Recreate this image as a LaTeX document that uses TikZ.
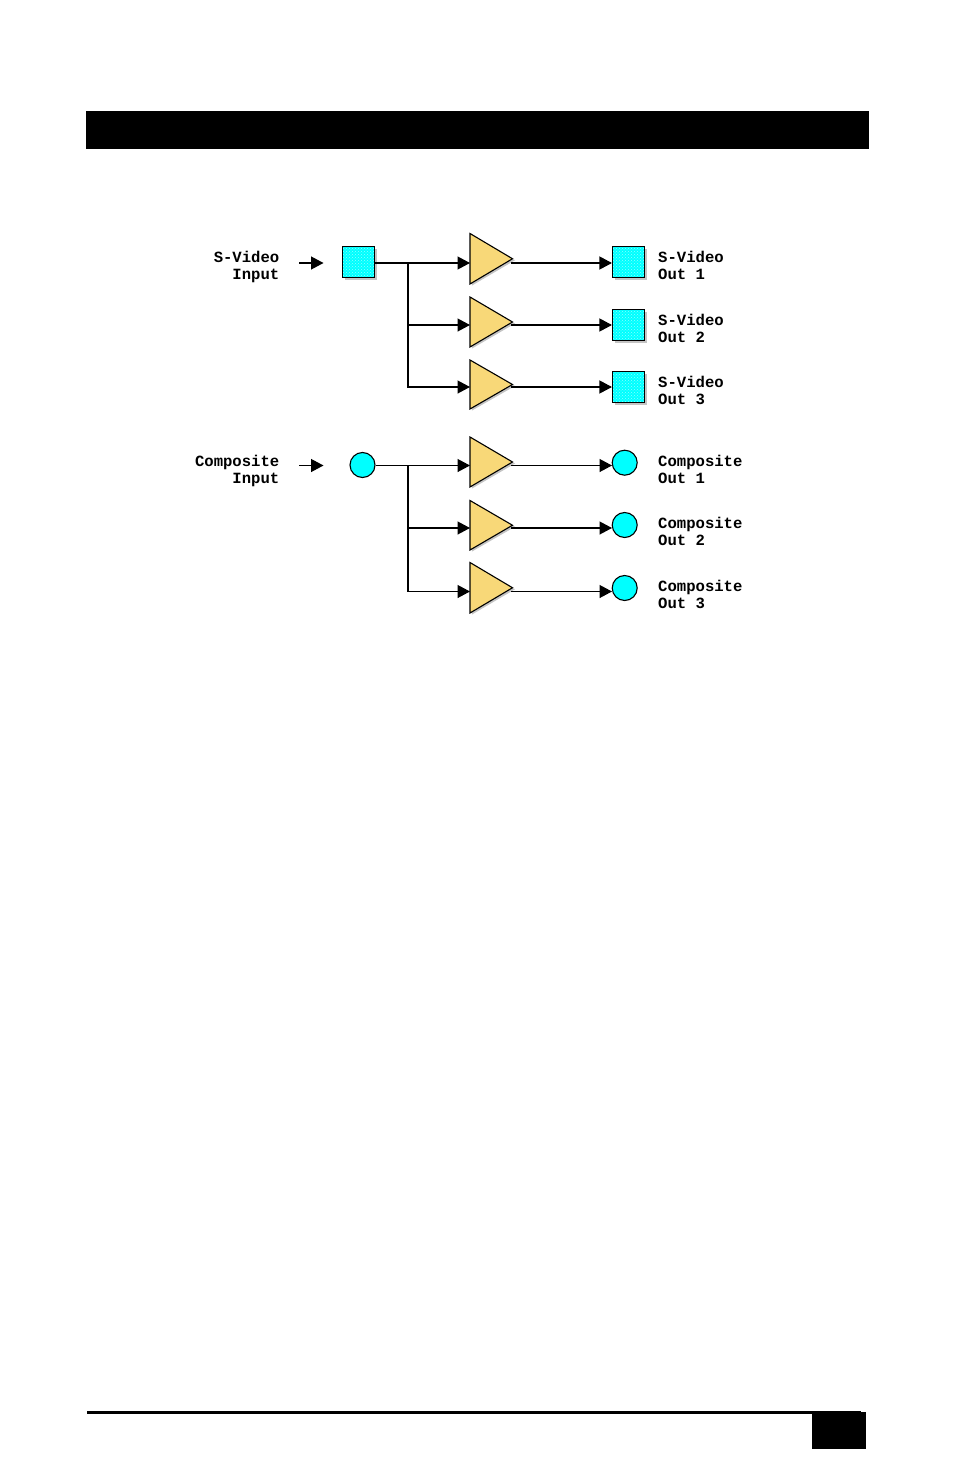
\documentclass[tikz,border=0pt]{standalone}
\usepackage{fontspec}
\setmainfont{Liberation Mono}[BoldFont={Liberation Mono Bold}]
\usetikzlibrary{arrows.meta,patterns,calc}
\definecolor{ampfill}{HTML}{F8D878}
\definecolor{portfill}{HTML}{00FFFF}
\definecolor{dropshade}{HTML}{C4C4C4}
\tikzset{
  x=1pt,y=-1pt,
  wire/.style={line width=1.25pt,black},
  feed/.style={wire,-{Triangle[length=12.5pt,width=13pt]}},
  portbox/.style={draw=black,line width=1.1pt,rectangle,minimum width=32pt,minimum height=31pt,inner sep=0pt,
    preaction={fill=dropshade,transform canvas={shift={(2pt,-2pt)}}},
    preaction={fill=portfill},pattern=crosshatch dots,pattern color=white!55!portfill},
  portdot/.style={draw=black,line width=1.1pt,circle,fill=portfill,minimum size=25pt,inner sep=0pt},
  amp/.style={draw=black,line width=1.1pt,fill=ampfill,line join=miter},
  ampshade/.style={fill=dropshade},
  caption/.style={font=\bfseries\fontsize{15.6}{17.5}\selectfont,inner sep=0pt},
  inlabel/.style={caption,anchor=east,align=right},
  outlabel/.style={caption,anchor=west,align=left},
  solidbar/.style={fill=black,draw=none,rectangle,inner sep=0pt,anchor=north west}
}
% Amplifier: #1 name, #2 top edge y, #3 bottom edge y, #4 signal line y
\newcommand{\ampl}[4]{%
  \fill[ampshade] (472,#3+1.5) -- (515,{(#2+#3)/2+1.5}) -- (470,#2+3) -- cycle;
  \draw[amp] (470,#2) -- (512.5,{(#2+#3)/2}) -- (470,#3) -- cycle;
  \coordinate (#1in) at (470,#4);
  \coordinate (#1out) at (511,#4);
}
\begin{document}
\begin{tikzpicture}
\useasboundingbox (0,0) rectangle (954,1474);
\fill[white] (0,0) rectangle (954,1474);

% page furniture
\node[solidbar,minimum width=783pt,minimum height=38pt] (headbar) at (86,111) {};
\node[solidbar,minimum width=774pt,minimum height=3pt] (footrule) at (87,1411) {};
\node[solidbar,minimum width=54pt,minimum height=37pt] (pagebox) at (812,1412) {};

% S-Video group
\ampl{a}{233.5}{284}{263}
\ampl{b}{297}{347}{325}
\ampl{c}{360}{409}{387}
\node[portbox] (sin) at (358.5,262.3) {};
\node[portbox] (s1) at (628.5,262.3) {};
\node[portbox] (s2) at (628.5,325) {};
\node[portbox] (s3) at (628.5,387) {};
\coordinate (sbus) at (408,263);
\coordinate (sfeed) at (299,263);
\coordinate (sfeedend) at (323.5,263);
\draw[feed] (sfeed) -- (sfeedend);
\draw[feed] (sin.east |- ain) -- (ain);
\draw[feed] (sbus) |- (bin);
\draw[feed] (sbus) |- (cin);
\draw[feed] (aout) -- (s1.west |- aout);
\draw[feed] (bout) -- (s2.west |- bout);
\draw[feed] (cout) -- (s3.west |- cout);

\node[inlabel] (sinlabel) at (279.5,267) {S-Video\\Input};
\node[outlabel] (s1label) at (658,265.5) {S-Video\\Out 1};
\node[outlabel] (s2label) at (658,328.5) {S-Video\\Out 2};
\node[outlabel] (s3label) at (658,390.5) {S-Video\\Out 3};

% Composite group
\ampl{d}{437}{487}{465.5}
\ampl{e}{500.5}{550}{528}
\ampl{f}{562.5}{613}{591.5}
\node[portdot] (cin) at (362.5,465) {};
\node[portdot] (c1) at (624.7,462.7) {};
\node[portdot] (c2) at (624.7,525) {};
\node[portdot] (c3) at (624.7,588) {};
\coordinate (cbus) at (408,465.5);
\coordinate (cfeed) at (299,465.5);
\coordinate (cfeedend) at (323.5,465.5);
\draw[feed] (cfeed) -- (cfeedend);
\draw[feed] (cin.east |- din) -- (din);
\draw[feed] (cbus) |- (ein);
\draw[feed] (cbus) |- (fin);
\coordinate (c1in) at (612,465.5);
\coordinate (c2in) at (612,528);
\coordinate (c3in) at (612,591.5);
\draw[feed] (dout) -- (c1in);
\draw[feed] (eout) -- (c2in);
\draw[feed] (fout) -- (c3in);

\node[inlabel] (cinlabel) at (279.5,471) {Composite\\Input};
\node[outlabel] (c1label) at (658,469.5) {Composite\\Out 1};
\node[outlabel] (c2label) at (658,531.5) {Composite\\Out 2};
\node[outlabel] (c3label) at (658,594.5) {Composite\\Out 3};
\end{tikzpicture}
\end{document}
